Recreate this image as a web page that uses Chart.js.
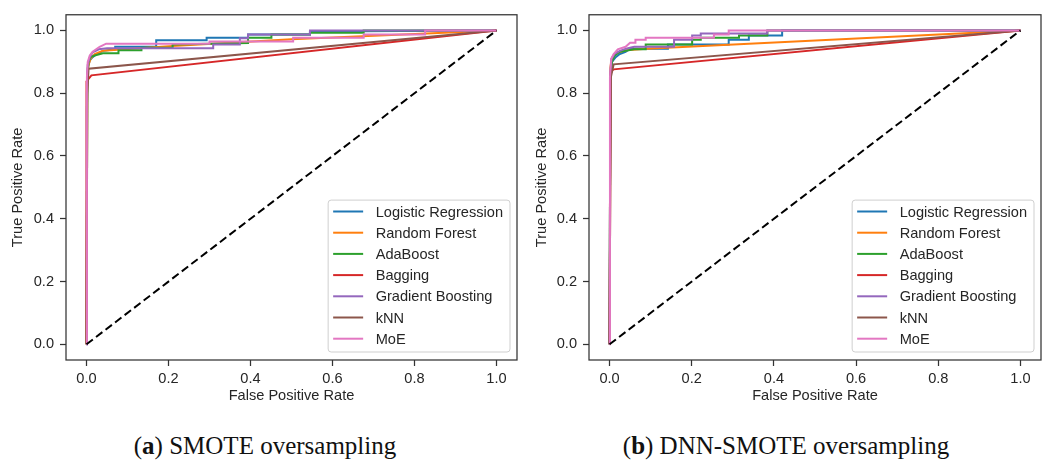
<!DOCTYPE html>
<html>
<head>
<meta charset="utf-8">
<script src="https://cdn.jsdelivr.net/npm/chart.js@4.4.1/dist/chart.umd.min.js"></script>
<style>
  body { margin: 0; background: #fff; width: 1048px; height: 462px; position: relative; overflow: hidden; }
  canvas { position: absolute; top: 0; }
  #roc-smote { left: 0; }
  #roc-dnn { left: 524px; }
  .cap { position: absolute; top: 433px; line-height: 25px; font-family: "Liberation Serif", "Times New Roman", serif;
         font-size: 25px; color: #111; white-space: nowrap; transform: translateX(-50%); }
</style>
</head>
<body>
<canvas id="roc-smote" width="524" height="410"></canvas>
<canvas id="roc-dnn" width="524" height="410"></canvas>
<div class="cap" style="left:265px">(<b>a</b>) SMOTE oversampling</div>
<div class="cap" style="left:786px">(<b>b</b>) DNN-SMOTE oversampling</div>
<script>
// Data: [fpr, tpr] points
const modelNames = ["Logistic Regression", "Random Forest", "AdaBoost", "Bagging", "Gradient Boosting", "kNN", "MoE"];
const modelColors = ["#1f77b4", "#ff7f0e", "#2ca02c", "#d62728", "#9467bd", "#8c564b", "#e377c2"];
const tickVals = [0, 0.2, 0.4, 0.6, 0.8, 1.0];
const chanceLine = [[0, 0], [1, 1]];

// (a) SMOTE
const smoteLogReg = [[0,0],[0.001,0.75],[0.003,0.88],[0.008,0.905],[0.015,0.915],[0.025,0.925],[0.04,0.935],[0.07,0.94],[0.07,0.948],[0.17,0.948],[0.17,0.969],[0.293,0.969],[0.293,0.977],[0.394,0.977],[0.394,0.987],[0.545,0.987],[0.545,0.997],[1,1]];
const smoteForest = [[0,0],[0.002,0.85],[0.005,0.89],[0.01,0.91],[0.02,0.925],[0.04,0.935],[0.2,0.95],[0.5,0.972],[0.83,0.99],[1,1]];
const smoteAda = [[0,0],[0.002,0.85],[0.005,0.9],[0.01,0.915],[0.02,0.92],[0.04,0.927],[0.078,0.927],[0.078,0.937],[0.134,0.937],[0.134,0.945],[0.21,0.945],[0.21,0.955],[0.394,0.96],[0.394,0.977],[0.451,0.977],[0.451,0.987],[0.545,0.987],[0.545,0.993],[0.676,0.993],[0.676,1.0],[1,1]];
const smoteBagging = [[0,0],[0,0.838],[0.012,0.857],[1,1]];
const smoteGradBoost = [[0,0],[0.001,0.8],[0.003,0.89],[0.008,0.915],[0.015,0.93],[0.03,0.94],[0.05,0.943],[0.309,0.943],[0.309,0.955],[0.374,0.955],[0.374,0.975],[0.394,0.975],[0.394,0.987],[0.545,0.987],[0.545,1.0],[1,1]];
const smoteKnn = [[0,0],[0.002,0.8],[0.005,0.878],[1,1]];
const smoteMoe = [[0,0],[0.001,0.85],[0.003,0.9],[0.008,0.92],[0.015,0.932],[0.02,0.937],[0.032,0.948],[0.048,0.958],[0.3,0.958],[0.3,0.965],[0.504,0.965],[0.504,0.977],[0.676,0.977],[0.676,0.987],[0.826,0.987],[0.826,1.0],[1,1]];

// (b) DNN-SMOTE
const dnnLogReg = [[0,0],[0.002,0.85],[0.006,0.9],[0.015,0.915],[0.025,0.925],[0.039,0.932],[0.05,0.942],[0.142,0.942],[0.142,0.955],[0.29,0.955],[0.29,0.97],[0.339,0.97],[0.339,0.984],[0.42,0.984],[0.42,1.0],[1,1]];
const dnnForest = [[0,0],[0.002,0.88],[0.005,0.91],[0.01,0.92],[0.02,0.93],[0.04,0.937],[0.09,0.942],[1,1]];
const dnnAda = [[0,0],[0.002,0.85],[0.006,0.9],[0.012,0.92],[0.025,0.932],[0.06,0.94],[0.088,0.94],[0.088,0.955],[0.201,0.955],[0.201,0.97],[0.222,0.97],[0.222,0.977],[0.315,0.977],[0.315,0.984],[0.384,0.984],[0.384,1.0],[1,1]];
const dnnBagging = [[0,0],[0.003,0.87],[0.01,0.876],[1,1]];
const dnnGradBoost = [[0,0],[0.002,0.87],[0.005,0.91],[0.012,0.925],[0.025,0.935],[0.04,0.942],[0.06,0.948],[0.157,0.948],[0.157,0.97],[0.201,0.97],[0.201,0.984],[0.222,0.984],[0.222,0.99],[0.384,0.99],[0.384,1.0],[1,1]];
const dnnKnn = [[0,0],[0.003,0.85],[0.01,0.892],[1,1]];
const dnnMoe = [[0,0],[0.001,0.85],[0.004,0.91],[0.01,0.925],[0.02,0.94],[0.039,0.948],[0.05,0.961],[0.063,0.961],[0.063,0.97],[0.088,0.97],[0.088,0.977],[0.254,0.977],[0.254,0.987],[0.29,0.987],[0.29,1.0],[1,1]];

const textColor = "#262626";
const spineColor = "#333";
Chart.defaults.font.family = "'Liberation Sans', Arial, sans-serif";
Chart.defaults.font.size = 14.6;
Chart.defaults.color = textColor;

// top/right spines + inner legend, matplotlib style
const framePlugin = {
  id: "frame",
  afterDatasetsDraw(chart) {
    const { ctx, chartArea: a } = chart;
    ctx.save();
    ctx.strokeStyle = spineColor;
    ctx.lineWidth = 1.25;
    ctx.strokeRect(a.left, a.top, a.right - a.left, a.bottom - a.top);
    ctx.restore();
  },
  afterDraw(chart) {
    const { ctx, chartArea: a } = chart;
    const items = chart.data.datasets.filter(d => d.label);
    ctx.save();
    ctx.font = "14.6px 'Liberation Sans', Arial, sans-serif";
    const textW = Math.max(...items.map(d => ctx.measureText(d.label).width));
    const rowH = 21.2;
    const w = 47.5 + textW + 7;
    const h = 11.4 + rowH * (items.length - 1) + 13.3;
    const x = a.right - 7 - w;
    const y = a.bottom - 8 - h;
    ctx.beginPath();
    ctx.roundRect(x, y, w, h, 3);
    ctx.fillStyle = "rgba(255,255,255,0.8)";
    ctx.fill();
    ctx.strokeStyle = "#cfcfcf";
    ctx.lineWidth = 1;
    ctx.stroke();
    items.forEach((d, i) => {
      const cy = y + 11.4 + i * rowH;
      ctx.beginPath();
      ctx.moveTo(x + 5, cy);
      ctx.lineTo(x + 35, cy);
      ctx.strokeStyle = d.borderColor;
      ctx.lineWidth = 2;
      ctx.stroke();
      ctx.fillStyle = textColor;
      ctx.textBaseline = "middle";
      ctx.fillText(d.label, x + 47.5, cy + 1);
    });
    ctx.restore();
  },
};

function toPoints(arr) {
  return arr.map(p => ({ x: p[0], y: p[1] }));
}

function axisOptions(title, fitSize, isX) {
  return {
    type: "linear",
    min: -0.05,
    max: 1.05,
    afterBuildTicks: s => { s.ticks = tickVals.map(v => ({ value: v })); },
    afterFit: s => { if (isX) s.height = fitSize; else s.width = fitSize; },
    ticks: { callback: v => v.toFixed(1), padding: isX ? 4 : 6, color: textColor },
    grid: { drawOnChartArea: false, drawTicks: true, tickLength: 6, tickColor: spineColor, tickWidth: 1.25 },
    border: { display: false },
    title: {
      display: true, text: title, color: textColor,
      padding: isX ? { top: 0, bottom: 5 } : { top: 9, bottom: 0 },
    },
  };
}

function makeRoc(canvasId, curves, yAxisWidth) {
  const datasets = curves.map((c, i) => ({
    label: modelNames[i],
    data: toPoints(c),
    borderColor: modelColors[i],
    backgroundColor: modelColors[i],
    borderWidth: 2,
    showLine: true,
    pointRadius: 0,
    tension: 0,
    order: 10 - i,
  }));
  datasets.push({
    label: null,
    data: toPoints(chanceLine),
    borderColor: "#000",
    borderWidth: 2,
    borderDash: [8, 4],
    showLine: true,
    pointRadius: 0,
    order: 0,
  });
  new Chart(document.getElementById(canvasId), {
    type: "scatter",
    data: { datasets },
    options: {
      responsive: false,
      animation: false,
      layout: { padding: { top: 10, right: 7, left: 0, bottom: 0 } },
      plugins: { legend: { display: false }, tooltip: { enabled: false } },
      scales: {
        x: axisOptions("False Positive Rate", 50, true),
        y: axisOptions("True Positive Rate", yAxisWidth, false),
      },
    },
    plugins: [framePlugin],
  });
}

makeRoc("roc-smote", [smoteLogReg, smoteForest, smoteAda, smoteBagging, smoteGradBoost, smoteKnn, smoteMoe], 66);
makeRoc("roc-dnn", [dnnLogReg, dnnForest, dnnAda, dnnBagging, dnnGradBoost, dnnKnn, dnnMoe], 65);
</script>
</body>
</html>
